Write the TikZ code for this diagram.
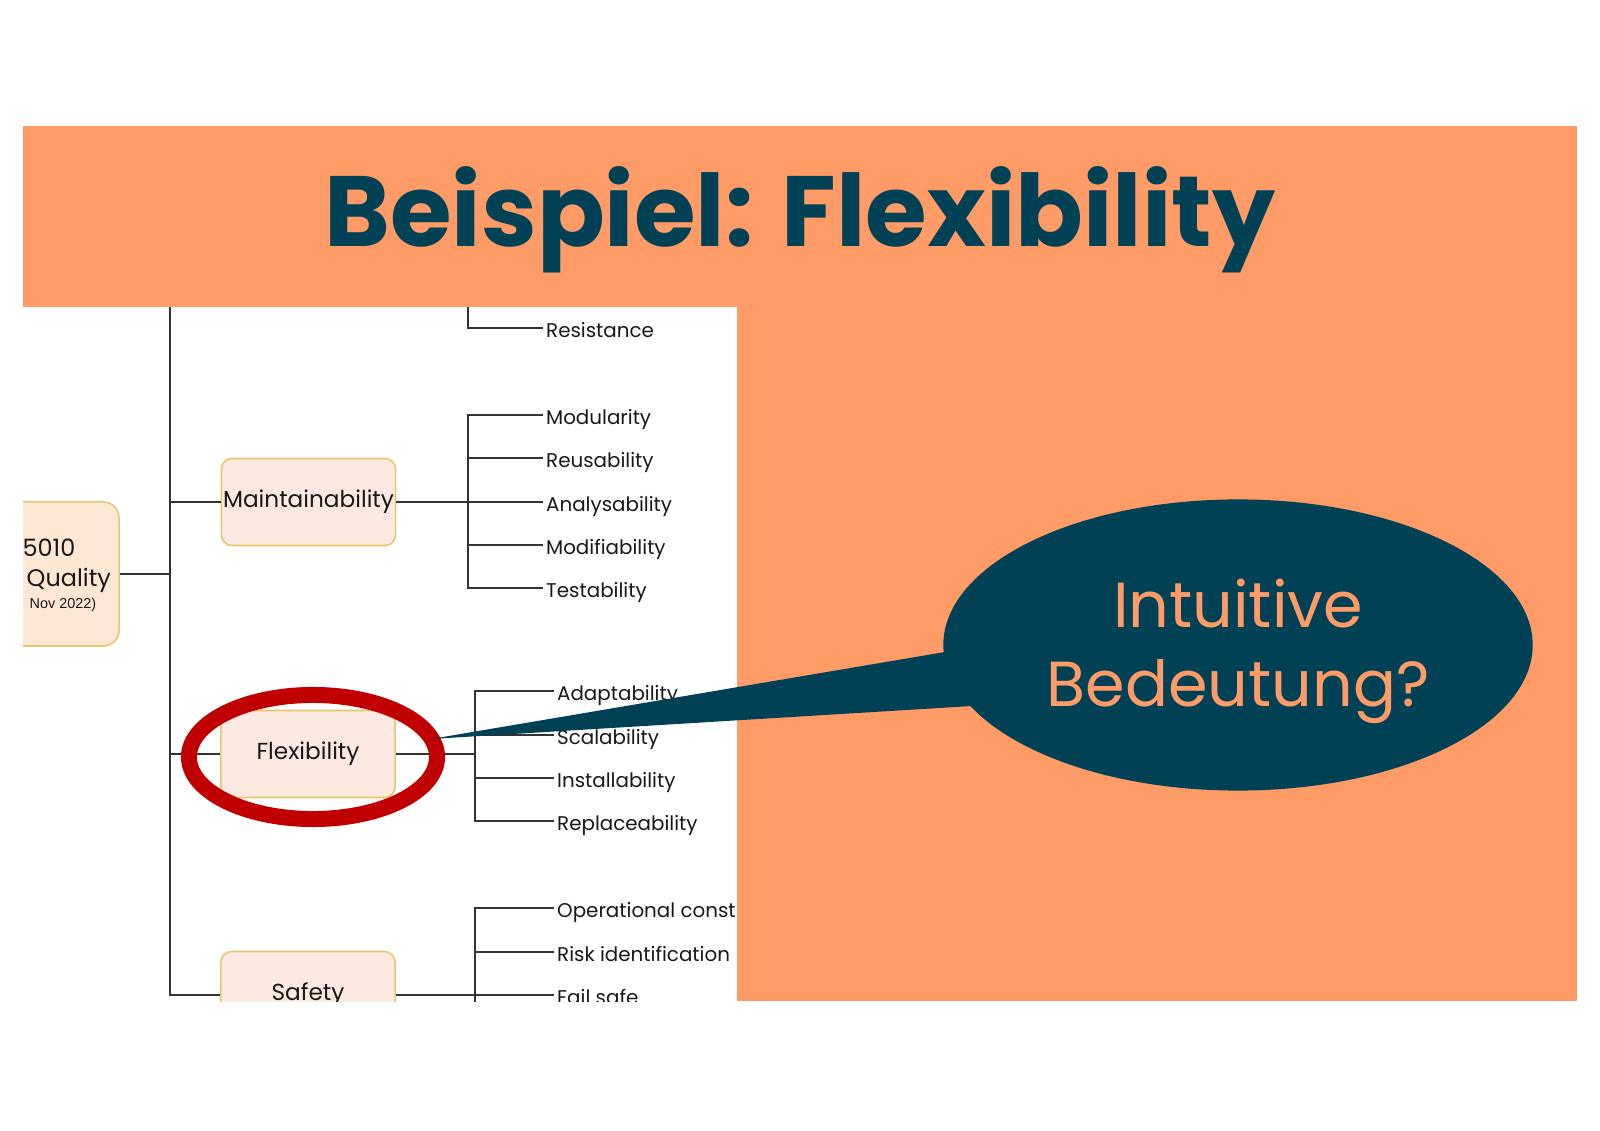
\documentclass[tikz,border=0pt]{standalone}
\usepackage{fontspec}
\setmainfont{Poppins}
\newfontfamily\arialish{Liberation Sans}
\usetikzlibrary{shapes.geometric}
\definecolor{slideorange}{HTML}{FF9B66}
\definecolor{deepteal}{HTML}{004155}
\definecolor{boxfill}{HTML}{FCE9E1}
\definecolor{rootfill}{HTML}{FFE7D3}
\definecolor{boxline}{HTML}{E8C670}
\definecolor{treeline}{HTML}{333333}
\definecolor{markred}{HTML}{C00000}
\tikzset{
  qbox/.style={draw=boxline,fill=boxfill,line width=0.45pt,rounded corners=3pt,minimum width=1.74cm,minimum height=0.87cm,inner sep=0pt,text=black!90,font=\fontsize{6.6}{8}\selectfont},
  qleaf/.style={anchor=mid west,inner xsep=0.7pt,inner ysep=0pt,text=black!90,font=\fontsize{5.65}{7}\selectfont},
  qroottext/.style={anchor=base west,inner sep=0pt,text=black!90,font=\fontsize{6.8}{8}\selectfont},
  qline/.style={line width=0.45pt,draw=treeline}
}
\begin{document}
\begin{tikzpicture}[x=0.01cm,y=-0.01cm]
  \useasboundingbox (0,0) rectangle (1600,1131);
  \fill[white] (0,0) rectangle (1600,1131);
  \fill[slideorange] (23,126) rectangle (1577,1001);
  \fill[white] (23,307) rectangle (737,1001);
  \begin{scope}
    \clip (23,307) rectangle (737,1001);
    \node[qbox,fill=rootfill,rounded corners=4.5pt,minimum width=1.8cm,minimum height=1.44cm] (root) at (29,574) {};
    \node[qroottext] (rootnum) at (22,557) {5010};
    \node[qroottext] (rootname) at (26,587) {Quality};
    \node[qroottext,font=\arialish\fontsize{4.1}{5}\selectfont] (rootdate) at (29,609) {Nov 2022)};
    \node[qbox] (maint) at (308.5,502) {Maintainability};
    \node[qbox] (flex) at (308,754) {Flexibility};
    \node[qbox] (safety) at (308,995) {Safety};
    \node[qleaf] (resist) at (543,328) {Resistance};
    \node[qleaf] (modu) at (543,415) {Modularity};
    \node[qleaf] (reus) at (543,458) {Reusability};
    \node[qleaf] (anal) at (543,502) {Analysability};
    \node[qleaf] (modi) at (543,545) {Modifiability};
    \node[qleaf] (test) at (543,588) {Testability};
    \node[qleaf] (adap) at (554,691) {Adaptability};
    \node[qleaf] (scal) at (554,735) {Scalability};
    \node[qleaf] (inst) at (554,778) {Installability};
    \node[qleaf] (repl) at (554,821) {Replaceability};
    \node[qleaf] (oper) at (554,908) {Operational const};
    \node[qleaf] (risk) at (554,952) {Risk identification};
    \node[qleaf] (fail) at (554,995) {Fail safe};
    \coordinate (trunktop) at (170,307);
    \coordinate (rootfork) at (170,574);
    \coordinate (restop) at (468,307);
    \coordinate (mfork) at (468,502);
    \coordinate (ffork) at (475,754);
    \coordinate (sfork) at (475,995);
    \coordinate (sbottom) at (475,1010);
    \draw[qline] (root.east) -- (rootfork);
    \draw[qline] (trunktop) |- (safety.west);
    \draw[qline] (trunktop |- maint) -- (maint.west);
    \draw[qline] (trunktop |- flex) -- (flex.west);
    \draw[qline] (restop) |- (resist.mid west);
    \draw[qline] (maint.east) -- (mfork);
    \draw[qline] (mfork) |- (modu.mid west);
    \draw[qline] (mfork) |- (reus.mid west);
    \draw[qline] (mfork) -- (anal.mid west);
    \draw[qline] (mfork) |- (modi.mid west);
    \draw[qline] (mfork) |- (test.mid west);
    \draw[qline] (flex.east) -- (ffork);
    \draw[qline] (ffork) |- (adap.mid west);
    \draw[qline] (ffork) |- (scal.mid west);
    \draw[qline] (ffork) |- (inst.mid west);
    \draw[qline] (ffork) |- (repl.mid west);
    \draw[qline] (safety.east) -- (sfork);
    \draw[qline] (sfork) |- (oper.mid west);
    \draw[qline] (sfork) |- (risk.mid west);
    \draw[qline] (sfork) -- (fail.mid west -| sfork) -- (fail.mid west);
    \draw[qline] (sfork) -- (sbottom);
  \end{scope}
  \node[ellipse,draw=markred,line width=4.55pt,minimum width=2.48cm,minimum height=1.24cm,inner sep=0pt] (ring) at (313,757) {};
  \coordinate (tailtip) at (431,739);
  \node[ellipse,fill=deepteal,minimum width=5.89cm,minimum height=2.91cm,inner sep=0pt] (bubble) at (1238,645) {};
  \fill[deepteal] (tailtip) -- (945,652) -- (1000,665) -- (972,706) -- cycle;
  \node[anchor=base,text=slideorange,font=\fontsize{18.1}{22}\selectfont] (askone) at (1238,628) {Intuitive};
  \node[anchor=base,text=slideorange,font=\fontsize{18.1}{22}\selectfont] (asktwo) at (1238,707) {Bedeutung?};
  \node[anchor=base,text=deepteal,font=\fontsize{28.4}{34}\selectfont\bfseries] (title) at (800,247) {Beispiel: Flexibility};
\end{tikzpicture}
\end{document}
